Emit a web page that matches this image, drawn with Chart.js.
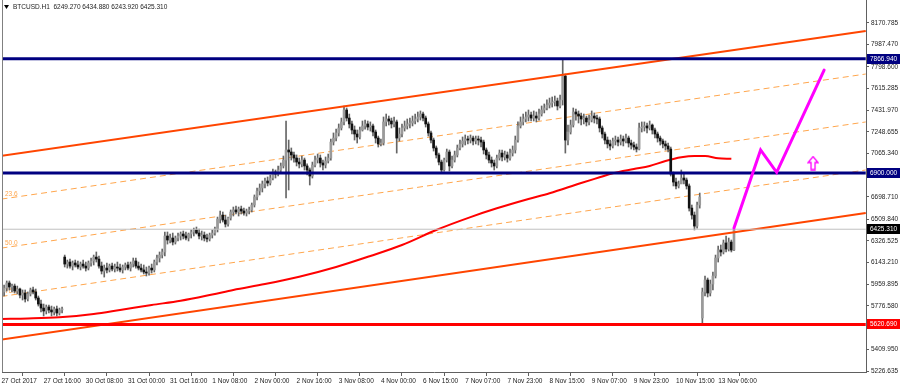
<!DOCTYPE html>
<html>
<head>
<meta charset="utf-8">
<script src="https://cdn.jsdelivr.net/npm/chart.js@4.4.1/dist/chart.umd.min.js"></script>
<style>
  html, body { margin: 0; padding: 0; background: #fff; }
  #wrap { width: 900px; height: 387px; position: relative; }
</style>
</head>
<body>
<div id="wrap"><canvas id="graph1"></canvas></div>
<script>
// ---- data (H1 bars, index 0 = 27 Oct 2017 00:00) ----
const symbolTitle = 'BTCUSD.H1  6249.270 6434.880 6243.920 6425.310';

const tickLabels = ['27 Oct 2017', '27 Oct 16:00', '30 Oct 08:00', '31 Oct 00:00', '31 Oct 16:00',
  '1 Nov 08:00', '2 Nov 00:00', '2 Nov 16:00', '3 Nov 08:00', '4 Nov 00:00', '6 Nov 15:00',
  '7 Nov 07:00', '7 Nov 23:00', '8 Nov 15:00', '9 Nov 07:00', '9 Nov 23:00', '10 Nov 15:00', '13 Nov 06:00'];

const priceTicks = [8170.785, 7987.470, 7798.600, 7615.285, 7431.970, 7248.655, 7065.340, 6882.025,
  6698.710, 6509.840, 6326.525, 6143.210, 5959.895, 5776.580, 5593.265, 5409.950, 5226.635];

const opens = [
  5827,5895,5928,5971,5937,5945,5903,5920,5869,5886, 5836,5878,5912,5895,5844,5793,5759,5734,5768,5743,
  5726,5751,5717,5743,6190,6131,6148,6114,6140,6123, 6106,6131,6114,6097,6140,6157,6190,6173,6114,6072,
  6097,6081,6114,6089,6106,6097,6081,6106,6123,6097, 6131,6157,6114,6097,6081,6064,6055,6097,6081,6148,
  6182,6207,6233,6368,6334,6351,6317,6351,6368,6385, 6368,6351,6385,6402,6419,6393,6368,6376,6351,6343,
  6376,6393,6427,6511,6545,6503,6469,6520,6571,6588, 6571,6596,6579,6562,6579,6588,6630,6698,6748,6774,
  6808,6833,6816,6858,6909,6892,6926,6960,7010,7095, 7078,7053,7027,6993,6977,7010,6960,6926,6875,6968,
  7010,7027,6985,6968,7002,7027,7162,7196,7239,7281, 7332,7433,7365,7315,7264,7230,7205,7264,7298,7315,
  7289,7298,7247,7196,7146,7154,7332,7357,7340,7315, 7332,7196,7230,7281,7298,7315,7323,7340,7357,7374,
  7399,7365,7315,7239,7179,7112,7053,6993,6926,7010, 7078,6960,7010,7053,7112,7146,7171,7188,7179,7196,
  7171,7188,7179,7162,7095,7053,7010,6985,6960,7027, 7069,7036,7053,7027,7069,7095,7179,7298,7332,7357,
  7374,7391,7365,7382,7365,7399,7433,7450,7475,7492, 7501,7509,7467,7518,7720,7179,7247,7306,7416,7399,
  7382,7357,7365,7332,7348,7382,7365,7357,7281,7230, 7179,7146,7129,7171,7179,7162,7188,7171,7196,7154,
  7137,7120,7103,7281,7289,7298,7281,7306,7264,7230, 7196,7171,7146,7129,7103,6892,6824,6791,6808,6858,
  6841,6791,6604,6545,6452,6630,5675,5895,5996,5886, 5962,6030,6182,6250,6233,6309,6258,6317,6249.27
];
const highs = [
  5920,5954,5988,5988,5962,5962,5945,5928,5912,5912, 5895,5928,5937,5920,5861,5827,5793,5785,5785,5776,
  5768,5776,5759,5768,6207,6165,6173,6157,6165,6157, 6148,6165,6148,6157,6182,6207,6233,6199,6148,6123,
  6140,6131,6140,6131,6148,6131,6123,6140,6148,6148, 6182,6182,6148,6131,6123,6106,6114,6131,6165,6207,
  6233,6258,6402,6402,6385,6393,6368,6393,6402,6410, 6402,6393,6419,6435,6444,6427,6410,6402,6385,6393,
  6419,6444,6528,6579,6571,6545,6528,6588,6613,6621, 6613,6621,6604,6596,6613,6647,6715,6774,6808,6833,
  6858,6867,6884,6934,6926,6960,6985,7044,7340,7179, 7112,7078,7053,7027,7044,7027,6977,6943,6993,7044,
  7061,7053,7010,7036,7061,7188,7239,7272,7315,7365, 7467,7450,7399,7340,7298,7264,7289,7340,7348,7340,
  7332,7315,7264,7213,7188,7374,7399,7382,7365,7374, 7348,7281,7315,7340,7357,7365,7382,7399,7416,7425,
  7416,7382,7332,7255,7196,7129,7069,7010,7027,7103, 7095,7044,7086,7137,7179,7205,7222,7213,7222,7213,
  7213,7213,7205,7179,7112,7078,7036,7010,7053,7095, 7095,7086,7078,7103,7129,7213,7332,7374,7399,7416,
  7433,7416,7425,7416,7441,7467,7484,7518,7534,7543, 7551,7534,7560,7866.94,7737,7306,7348,7450,7441,7425,
  7408,7399,7382,7391,7425,7408,7391,7374,7298,7247, 7205,7179,7196,7213,7205,7222,7213,7230,7213,7179,
  7162,7146,7323,7332,7332,7323,7340,7315,7281,7247, 7213,7188,7171,7154,7120,6909,6858,6833,6926,6892,
  6858,6808,6630,6571,6655,6731,5928,6030,6013,5996, 6064,6207,6283,6292,6334,6368,6351,6334,6434.88
];
const lows = [
  5802,5861,5903,5912,5895,5886,5878,5844,5827,5810, 5819,5861,5878,5827,5776,5726,5692,5709,5717,5692,
  5700,5692,5700,5717,6106,6097,6097,6081,6106,6089, 6081,6097,6072,6081,6114,6123,6148,6097,6047,6021,
  6055,6064,6072,6064,6072,6064,6055,6081,6081,6072, 6106,6097,6081,6064,6047,6030,6038,6055,6064,6123,
  6148,6182,6199,6300,6309,6292,6300,6326,6334,6343, 6334,6326,6351,6368,6385,6343,6334,6326,6317,6326,
  6351,6376,6402,6478,6486,6444,6452,6503,6537,6554, 6537,6554,6545,6537,6554,6571,6613,6672,6715,6740,
  6774,6791,6799,6841,6858,6875,6909,6943,6689,6757, 7010,6993,6960,6943,6951,6926,6884,6799,6858,6951,
  6985,6951,6926,6943,6985,7010,7137,7171,7213,7264, 7306,7340,7281,7230,7179,7154,7188,7255,7272,7264,
  7255,7213,7154,7120,7129,7137,7298,7306,7281,7289, 7069,7171,7205,7255,7272,7281,7298,7315,7332,7348,
  7340,7289,7213,7154,7086,7027,6968,6909,6917,6993, 6917,6943,6993,7036,7095,7120,7137,7146,7154,7137,
  7146,7137,7120,7061,7019,6985,6951,6926,6943,7010, 7002,7010,6993,7010,7044,7069,7162,7281,7306,7332,
  7340,7340,7340,7332,7348,7382,7408,7433,7450,7458, 7467,7433,7450,7475,7069,7137,7230,7289,7348,7323,
  7306,7315,7298,7306,7332,7323,7315,7247,7196,7146, 7112,7095,7112,7137,7129,7137,7129,7154,7120,7103,
  7095,7078,7095,7247,7255,7239,7264,7230,7196,7162, 7137,7112,7095,7078,6875,6791,6765,6774,6816,6808,
  6765,6579,6511,6419,6435,6604,5620.69,5861,5853,5861, 5912,6013,6148,6199,6216,6233,6241,6233,6243.92
];
const closes = [
  5895,5928,5971,5937,5945,5903,5920,5869,5886,5836, 5878,5912,5895,5844,5793,5759,5734,5768,5743,5726,
  5751,5717,5743,5751,6131,6148,6114,6140,6123,6106, 6131,6114,6097,6140,6157,6190,6173,6114,6072,6097,
  6081,6114,6089,6106,6097,6081,6106,6123,6097,6131, 6157,6114,6097,6081,6064,6055,6097,6081,6148,6182,
  6207,6233,6368,6334,6351,6317,6351,6368,6385,6368, 6351,6385,6402,6419,6393,6368,6376,6351,6343,6376,
  6393,6427,6511,6545,6503,6469,6520,6571,6588,6571, 6596,6579,6562,6579,6588,6630,6698,6748,6774,6808,
  6833,6816,6858,6909,6892,6926,6960,7010,7095,7078, 7053,7027,6993,6977,7010,6960,6926,6875,6968,7010,
  7027,6985,6968,7002,7027,7162,7196,7239,7281,7332, 7433,7365,7315,7264,7230,7205,7264,7298,7315,7289,
  7298,7247,7196,7146,7154,7332,7357,7340,7315,7332, 7196,7230,7281,7298,7315,7323,7340,7357,7374,7399,
  7365,7315,7239,7179,7112,7053,6993,6926,7010,7078, 6960,7010,7053,7112,7146,7171,7188,7179,7196,7171,
  7188,7179,7162,7095,7053,7010,6985,6960,7027,7069, 7036,7053,7027,7069,7095,7179,7298,7332,7357,7374,
  7391,7365,7382,7365,7399,7433,7450,7475,7492,7501, 7509,7467,7518,7720,7179,7247,7306,7416,7399,7382,
  7357,7365,7332,7348,7382,7365,7357,7281,7230,7179, 7146,7129,7171,7179,7162,7188,7171,7196,7154,7137,
  7120,7103,7281,7289,7298,7281,7306,7264,7230,7196, 7171,7146,7129,7103,6892,6824,6791,6808,6858,6841,
  6791,6604,6545,6452,6630,6698,5895,5996,5886,5962, 6030,6182,6250,6233,6309,6258,6317,6249.27,6425.31
];

// moving average, read at a few bars
const maBars   = [0, 10, 22, 35, 45, 57, 68, 80, 88, 100, 113, 127, 140, 152, 165, 178, 188, 200, 208, 220, 227, 232, 240, 246, 252, 258, 263, 267, 272, 277];
const maValues = [5667, 5671, 5681, 5709, 5743, 5785, 5821, 5874, 5912, 5962, 6024, 6106, 6199, 6292, 6419, 6528, 6602, 6681, 6729, 6816, 6864, 6898, 6934, 6960, 7002, 7033, 7044, 7044, 7025, 7021];

// channel + fibo lines (value at left edge, value at right edge)
const lineBars     = [0, 328];
const channelUpper = [7045, 8100];
const channelLower = [5492, 6562];
const fibLevels    = ['23.6', '50.0', '76.4'];
const fibLines     = [[6680, 7737], [6266, 7332], [5857, 6926]];

// horizontal levels
const levelPrices = [7866.94, 6900.00, 6425.31, 5620.69];

// drawn forecast path and arrow
const forecastBars   = [278, 288.1, 294.2, 312.2];
const forecastPrices = [6434.88, 7095, 6906, 7771];
const arrowBars   = [308];
const arrowPrices = [6985];

// ---- styles ----
const FONT = 'Liberation Sans';
const levelColors = ['#000080', '#000080', '#c0c0c0', '#ff0000'];
const levelBoxColors = ['#000080', '#000080', '#000000', '#ff0000'];
const levelWidths = [3, 3, 1, 3];

const arrowImg = document.createElement('canvas');
arrowImg.width = 12; arrowImg.height = 15;
(function () {
    const a = arrowImg.getContext('2d');
    a.strokeStyle = '#ff00ff';
    a.lineWidth = 1.3;
    a.beginPath();
    a.moveTo(6, 1); a.lineTo(11, 7); a.lineTo(8, 7); a.lineTo(8, 14);
    a.lineTo(4, 14); a.lineTo(4, 7); a.lineTo(1, 7); a.closePath();
    a.stroke();
})();

const pts = (xs, ys) => xs.map((x, i) => ({ x: x, y: ys[i] }));

const datasets = [];

fibLines.forEach(f => {
    datasets.push({ type: 'line', data: pts(lineBars, f), borderColor: '#ffa64d', borderWidth: 1,
        borderDash: [6, 4], pointRadius: 0, order: 10 });
});

datasets.push({ type: 'line', data: pts(maBars, maValues), borderColor: '#ff0000', borderWidth: 2,
    pointRadius: 0, cubicInterpolationMode: 'monotone', order: 6 });

// candles: wick then body
datasets.push({ type: 'bar', data: opens.map((o, i) => ({ x: i, y: [lows[i], highs[i]] })),
    backgroundColor: '#666666', barThickness: 1, grouped: false, borderWidth: 0, order: 5 });
datasets.push({ type: 'bar', data: opens.map((o, i) => ({ x: i, y: [o, closes[i]] })),
    backgroundColor: opens.map((o, i) => closes[i] >= o ? '#9a9a9a' : '#111111'),
    barThickness: 2, minBarLength: 1, grouped: false, borderWidth: 0, order: 4 });

[channelUpper, channelLower].forEach(c => {
    datasets.push({ type: 'line', data: pts(lineBars, c), borderColor: '#ff4500', borderWidth: 2,
        pointRadius: 0, order: 3 });
});

levelPrices.forEach((p, k) => {
    datasets.push({ type: 'line', data: pts(lineBars, [p, p]), borderColor: levelColors[k],
        borderWidth: levelWidths[k], pointRadius: 0, order: 2 });
});

datasets.push({ type: 'line', data: pts(forecastBars, forecastPrices), borderColor: '#ff00ff',
    borderWidth: 3, pointRadius: 0, borderCapStyle: 'round', borderJoinStyle: 'miter', order: 1 });

datasets.push({ type: 'line', data: pts(arrowBars, arrowPrices), showLine: false,
    pointStyle: arrowImg, pointRadius: 6, order: 0 });

// frame line, fibo labels, level boxes, title
const mtDecor = {
    id: 'mtDecor',
    beforeDatasetsDraw(chart) {
        const { ctx, chartArea: a, scales: { y } } = chart;
        ctx.save();
        ctx.font = '6.5px "' + FONT + '"';
        ctx.fillStyle = '#ffa64d';
        ctx.textBaseline = 'bottom';
        fibLevels.forEach((lab, k) => {
            ctx.fillText(lab, a.left + 3, y.getPixelForValue(fibLines[k][0]) - 2);
        });
        ctx.restore();
    },
    afterDraw(chart) {
        const { ctx, chartArea: a, scales: { y } } = chart;
        ctx.save();
        ctx.strokeStyle = '#808080';
        ctx.lineWidth = 1;
        ctx.beginPath();
        ctx.moveTo(a.left + 0.5, a.top);
        ctx.lineTo(a.left + 0.5, a.bottom);
        ctx.stroke();

        ctx.font = '6.5px "' + FONT + '"';
        ctx.textBaseline = 'middle';
        levelPrices.forEach((p, k) => {
            const py = Math.round(y.getPixelForValue(p));
            ctx.fillStyle = levelBoxColors[k];
            ctx.fillRect(a.right + 1, py - 5, 900 - a.right - 1, 10);
            ctx.fillStyle = '#ffffff';
            ctx.fillText(p.toFixed(3), a.right + 4, py + 0.5);
        });

        // title
        ctx.fillStyle = '#000000';
        ctx.beginPath();
        ctx.moveTo(4, 5); ctx.lineTo(9, 5); ctx.lineTo(6.5, 9); ctx.closePath();
        ctx.fill();
        ctx.fillStyle = '#222222';
        ctx.fillText(symbolTitle, 13, 7.5);
        ctx.restore();
    }
};

const ctx = document.getElementById('graph1').getContext('2d');
const chart = new Chart(ctx, {
    type: 'bar',
    data: { datasets: datasets },
    plugins: [mtDecor],
    options: {
        responsive: true,
        maintainAspectRatio: false,
        animation: false,
        devicePixelRatio: 1,
        layout: { autoPadding: false, padding: { left: 2, top: 0, right: 0, bottom: 0 } },
        plugins: { legend: { display: false }, tooltip: { enabled: false } },
        scales: {
            x: {
                type: 'linear', min: 0.2, max: 328.1, offset: false,
                grid: { drawOnChartArea: false, drawTicks: true, tickLength: 4, color: '#606060' },
                border: { display: true, color: '#606060' },
                afterBuildTicks: s => { s.ticks = tickLabels.map((_, k) => ({ value: k * 16 })); },
                afterFit: s => { s.height = 15; s.paddingLeft = 0; s.paddingRight = 0; },
                ticks: {
                    autoSkip: false, maxRotation: 0, align: 'start', padding: 1,
                    font: { family: FONT, size: 6.5 }, color: '#222',
                    callback: v => tickLabels[Math.round(v / 16)]
                }
            },
            y: {
                position: 'right', min: 5218.6, max: 8362.7,
                grid: { drawOnChartArea: false, tickLength: 3, color: '#606060' },
                border: { display: true, color: '#606060' },
                afterBuildTicks: s => { s.ticks = priceTicks.map(v => ({ value: v })); },
                afterFit: s => { s.width = 34; s.paddingTop = 0; s.paddingBottom = 0; },
                ticks: {
                    padding: 2, font: { family: FONT, size: 6.5 }, color: '#222',
                    callback: v => Number(v).toFixed(3)
                }
            }
        }
    }
});
</script>
</body>
</html>
